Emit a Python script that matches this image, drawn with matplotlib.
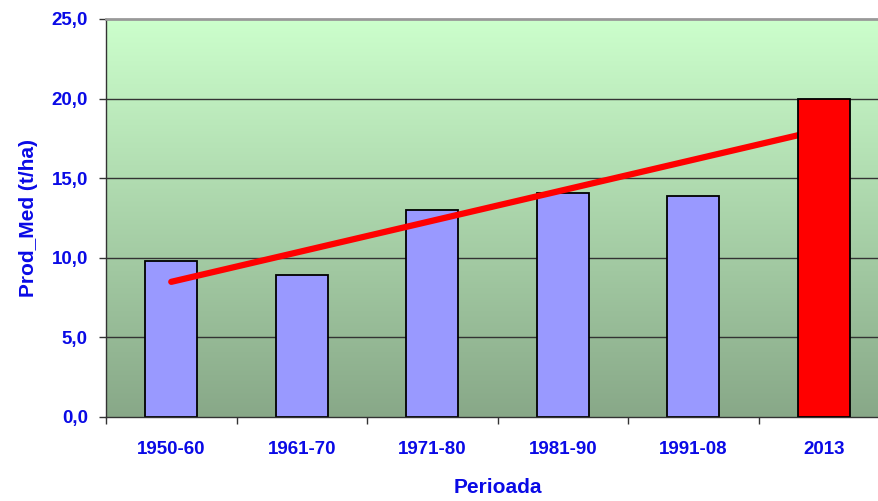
import numpy as np
import matplotlib.pyplot as plt
from matplotlib.colors import LinearSegmentedColormap

periods = ['1950-60', '1961-70', '1971-80', '1981-90', '1991-08', '2013']
prod_med = [9.8, 8.9, 13.0, 14.1, 13.9, 20.0]
bar_colors = ['#9999FF'] * 5 + ['#FF0000']

text_blue = '#0A0AE6'
plt.rcParams['font.family'] = ['Liberation Sans', 'DejaVu Sans']
plt.rcParams['font.weight'] = 'bold'
plt.rcParams['axes.labelweight'] = 'bold'

fig = plt.figure(figsize=(8.79, 5.01), dpi=100)
# plot area runs a little past the right edge, like the original
ax = fig.add_axes([106 / 879, 1 - 417 / 501, 783 / 879, 398 / 501])

# gradient background
grad = LinearSegmentedColormap.from_list('bg', ['#88A888', '#CCFFCC'])
ax.imshow(np.linspace(0, 1, 256).reshape(-1, 1), cmap=grad, origin='lower',
          extent=[-0.5, 5.5, 0, 25], aspect='auto', zorder=0)

x = np.arange(len(periods))
ax.set_ylim(0, 25)
ax.set_xlim(-0.5, 5.5)

for yv in [5, 10, 15, 20]:
    ax.axhline(yv, color='#333333', lw=1.0, zorder=1)

# blue bars under the trend line, red bar on top of it
for i in range(len(periods)):
    z = 4 if i == len(periods) - 1 else 2
    ax.bar(x[i], prod_med[i], width=0.40, color=bar_colors[i],
           edgecolor='black', linewidth=1.3, zorder=z)

slope, icpt = np.polyfit(x, prod_med, 1)
ax.plot([x[0], x[-1]], [icpt, icpt + slope * x[-1]], color='#FF0000',
        lw=4.5, solid_capstyle='round', zorder=3)

ax.set_yticks([0, 5, 10, 15, 20, 25])
ax.set_yticklabels([f'{v:.1f}'.replace('.', ',') for v in [0, 5, 10, 15, 20, 25]])
ax.set_xticks(x)
ax.set_xticklabels(periods)
ax.set_xticks(np.arange(-0.5, 6, 1), minor=True)
ax.tick_params(axis='x', which='major', length=0, pad=17,
               labelsize=13.5, labelcolor=text_blue)
ax.tick_params(axis='x', which='minor', length=5, width=1, color='#333333')
ax.tick_params(axis='y', length=5, width=1, color='#333333', pad=8,
               labelsize=13.5, labelcolor=text_blue)
for lbl in ax.get_xticklabels() + ax.get_yticklabels():
    lbl.set_fontweight('bold')

for s in ['left', 'bottom']:
    ax.spines[s].set_color('#333333')
    ax.spines[s].set_linewidth(1.0)
ax.spines['top'].set_color('#999999')
ax.spines['top'].set_linewidth(2)
ax.spines['right'].set_visible(False)

ax.set_ylabel('Prod_Med (t/ha)', color=text_blue, fontsize=15, labelpad=10)
ax.set_xlabel('Perioada', color=text_blue, fontsize=15, labelpad=15)

fig.savefig('out.png', dpi=100)
